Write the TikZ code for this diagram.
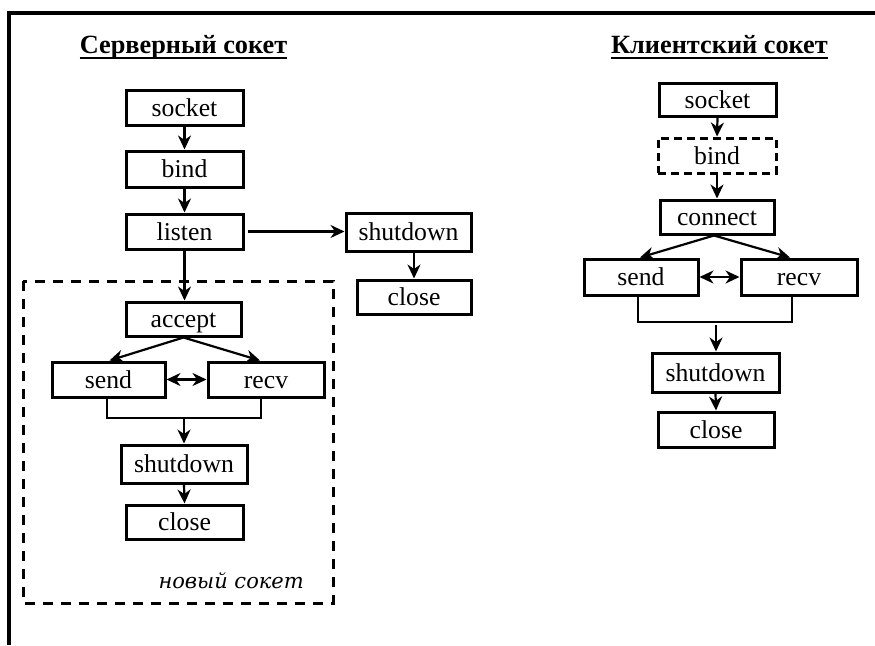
\documentclass[tikz,border=0pt]{standalone}
\usepackage{fontspec}
\setmainfont{Liberation Serif}
\newfontfamily\notefont{DejaVu Serif}
\usetikzlibrary{arrows.meta}
\begin{document}
\begin{tikzpicture}[x=1pt,y=-1pt,
  box/.style={draw,line width=3pt,inner sep=0pt,text height=20pt,text depth=3pt,font=\fontsize{25.7}{30}\selectfont},
  dbox/.style={box,dash pattern=on 8pt off 5pt},
  tip/.tip={Stealth[length=14pt,width=13pt,inset=4.5pt]},
  arr/.style={line width=2.2pt,-tip},
  darr/.style={line width=2.2pt,tip-tip},
  line/.style={line width=1.8pt},
  head/.style={anchor=base,inner sep=0pt,font=\fontsize{26.3}{30}\selectfont\bfseries}]
\useasboundingbox (0,0) rectangle (875,645);

% outer frame (top and left edges)
\draw[line width=3.4pt] (9,645) -- (9,13) -- (875,13);

% headings
\node[head] (h1) at (183.5,53) {Серверный сокет};
\node[head] (h2) at (719.5,53) {Клиентский сокет};
\draw[line width=2.6pt] ([yshift=-5pt]h1.base west) -- ([yshift=-5pt]h1.base east);
\draw[line width=2.6pt] ([yshift=-5pt]h2.base west) -- ([yshift=-5pt]h2.base east);

% ---------- server side ----------
\node[box,minimum width=117pt,minimum height=35pt] (ssocket) at (184.5,107.5) {socket};
\node[box,minimum width=117pt,minimum height=36pt] (sbind)   at (184.5,169)   {bind};
\node[box,minimum width=117pt,minimum height=35pt] (slisten) at (184.5,231.5) {listen};
\node[box,minimum width=125pt,minimum height=38pt] (sshutA)  at (408.5,232)   {shutdown};
\node[box,minimum width=114pt,minimum height=34pt] (scloseA) at (414,297)     {close};

% area of the accepted connection
\draw[line width=3pt,dash pattern=on 10pt off 8pt] (23,281) rectangle (333,603);
\node[anchor=base east,inner sep=0pt,font=\fontsize{21}{24}\selectfont\notefont\itshape] (nsock) at (304,588) {новый сокет};

\node[box,minimum width=115pt,minimum height=34pt] (saccept) at (183.5,319)   {accept};
\node[box,minimum width=113pt,minimum height=35pt] (ssend)   at (108.5,379.5) {send};
\node[box,minimum width=116pt,minimum height=35pt] (srecv)   at (266,379.5)   {recv};
\node[box,minimum width=126pt,minimum height=38pt] (sshutB)  at (184,464)     {shutdown};
\node[box,minimum width=117pt,minimum height=34pt] (scloseB) at (184.5,522)   {close};
\coordinate (sjoin) at (184,418);

\draw[arr] (ssocket.south) -- (sbind.north);
\draw[arr] (sbind.south) -- (slisten.north);
\draw[arr] ([xshift=3pt]slisten.east) -- (sshutA.west |- slisten.east);
\draw[arr] (sshutA.south -| scloseA.north) -- (scloseA.north);
\draw[arr] (slisten.south) -- (slisten.south |- saccept.north);
\draw[arr] (saccept.south) -- ([xshift=1pt]ssend.north);
\draw[arr] (saccept.south) -- ([xshift=-6pt]srecv.north);
\draw[darr] (ssend.east) -- (srecv.west);
\draw[line] ([xshift=-1.5pt]ssend.south) |- (sjoin) -| ([xshift=-5pt]srecv.south);
\draw[arr] (sjoin) -- (sshutB.north);
\draw[arr] (sshutB.south) -- (scloseB.north);

% ---------- client side ----------
\node[box,minimum width=117pt,minimum height=33pt] (csocket)  at (717.5,100)   {socket};
\node[dbox,minimum width=118pt,minimum height=35pt] (cbind)   at (717,155.5)   {bind};
\node[box,minimum width=114pt,minimum height=34pt] (cconnect) at (717,217)     {connect};
\node[box,minimum width=114pt,minimum height=36pt] (csend)    at (641,277)     {send};
\node[box,minimum width=116pt,minimum height=36pt] (crecv)    at (799,277)     {recv};
\node[box,minimum width=127pt,minimum height=39pt] (cshut)    at (715.5,372.5) {shutdown};
\node[box,minimum width=116pt,minimum height=35pt] (cclose)   at (716,429.5)   {close};
\coordinate (cjoin) at (716,322);

\draw[arr] (csocket.south) -- (cbind.north);
\draw[arr] (cbind.south) -- (cconnect.north);
\draw[arr] ([xshift=-3pt]cconnect.south) -- ([xshift=-1pt]csend.north);
\draw[arr] ([xshift=-3pt]cconnect.south) -- ([xshift=-9pt]crecv.north);
\draw[darr] (csend.east) -- (crecv.west);
\draw[line] ([xshift=-3pt]csend.south) |- (cjoin) -| ([xshift=-7pt]crecv.south);
\draw[arr] ([yshift=-3pt]cjoin) -- (cjoin |- cshut.north);
\draw[arr] (cshut.south) -- (cclose.north);
\end{tikzpicture}
\end{document}
